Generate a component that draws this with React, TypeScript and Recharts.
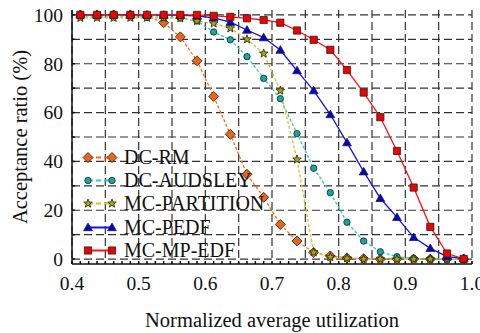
import React from "react";
import { LineChart, Line, XAxis, YAxis, CartesianGrid, Label } from "recharts";

// normalized average utilization (bin centres)
const utilization = [
  0.4125, 0.4375, 0.4625, 0.4875, 0.5125, 0.5375, 0.5625, 0.5875, 0.6125, 0.6375, 0.6625, 0.6875,
  0.7125, 0.7375, 0.7625, 0.7875, 0.8125, 0.8375, 0.8625, 0.8875, 0.9125, 0.9375, 0.9625, 0.9875,
];

// acceptance ratio (%)
const dcRm = [100, 100, 100, 100, 99.5, 96.8, 91, 81.2, 66.6, 51.1, 34.7, 25.3, 14.2, 7.4, 2.7, 1.3, 0.5, 0.2, 0, 0, 0, 0, 0, 0];
const dcAudsley = [99.2, 99.2, 99.2, 99.2, 99.1, 99, 98.7, 97.5, 93, 89.8, 82.9, 74, 65.7, 51.4, 37.2, 27.2, 15.1, 7.4, 3, 1, 0.3, 0, 0, 0];
const mcPartition = [98.8, 98.8, 98.8, 98.8, 98.8, 98.8, 98.6, 97.5, 96.5, 94.5, 90, 84.2, 69, 40.8, 2.8, 0.8, 0.3, 0, 0, 0, 0, 0, 0, 0];
const mcPedf = [100, 100, 100, 100, 100, 99.9, 99.8, 99.6, 98.8, 97, 93.8, 90.7, 85.6, 77.2, 69, 59.2, 47.7, 35.8, 24.9, 17.1, 8.9, 4.4, 1, 0.3];
const mcMpEdf = [100, 100, 100, 100, 100, 100, 100, 100, 99.6, 99.2, 98.6, 97.9, 96.8, 93.6, 89.8, 85.7, 77.4, 68.2, 58.1, 44.3, 29.3, 13.2, 2.3, 0.1];

const xLabelTicks = [0.4, 0.5, 0.6, 0.7, 0.8, 0.9, 1.0];
const xGrid = [0.4, 0.45, 0.5, 0.55, 0.6, 0.65, 0.7, 0.75, 0.8, 0.85, 0.9, 0.95, 1.0];
const yTicks = [0, 10, 20, 30, 40, 50, 60, 70, 80, 90, 100];
const yLabelTicks = [0, 20, 40, 60, 80, 100];

// minor ticks every 0.0125 along x
const xMinor = Array.from({ length: 49 }, (_, i) => Math.round((0.4 + i * 0.0125) * 10000) / 10000);

const data = utilization.map((u, i) => ({
  u,
  dcRm: dcRm[i],
  dcAudsley: dcAudsley[i],
  mcPartition: mcPartition[i],
  mcPedf: mcPedf[i],
  mcMpEdf: mcMpEdf[i],
}));

type Shape = "diamond" | "circle" | "star" | "triangle" | "square";

const series: { key: string; name: string; color: string; fill: string; dash?: string; shape: Shape }[] = [
  { key: "dcRm", name: "DC-RM", color: "#ff6a10", fill: "#ee6414", dash: "3 2", shape: "diamond" },
  { key: "dcAudsley", name: "DC-AUDSLEY", color: "#30c8c8", fill: "#10a8a8", dash: "3 2", shape: "circle" },
  { key: "mcPartition", name: "MC-PARTITION", color: "#c8c828", fill: "#a8a800", dash: "3 2", shape: "star" },
  { key: "mcPedf", name: "MC-PEDF", color: "#1010ff", fill: "#0000d8", shape: "triangle" },
  { key: "mcMpEdf", name: "MC-MP-EDF", color: "#ff1010", fill: "#f00000", shape: "square" },
];

const FONT = "'Liberation Serif', 'Times New Roman', serif";

function markerPath(shape: Shape, cx: number, cy: number) {
  switch (shape) {
    case "diamond":
      return `M${cx},${cy - 5}L${cx + 5},${cy}L${cx},${cy + 5}L${cx - 5},${cy}Z`;
    case "triangle":
      return `M${cx},${cy - 4.4}L${cx + 4.4},${cy + 3.2}L${cx - 4.4},${cy + 3.2}Z`;
    case "square":
      return `M${cx - 3.6},${cy - 3.6}h7.2v7.2h-7.2Z`;
    case "star": {
      let d = "";
      for (let k = 0; k < 10; k++) {
        const r = k % 2 === 0 ? 4.5 : 1.9;
        const a = -Math.PI / 2 + (k * Math.PI) / 5;
        d += `${k === 0 ? "M" : "L"}${cx + r * Math.cos(a)},${cy + r * Math.sin(a)}`;
      }
      return d + "Z";
    }
    default:
      return "";
  }
}

function Marker({ shape, cx, cy, fill }: { shape: Shape; cx: number; cy: number; fill: string }) {
  if (shape === "circle") {
    return <circle cx={cx} cy={cy} r={3.2} fill={fill} stroke="#222" strokeWidth={0.8} />;
  }
  return <path d={markerPath(shape, cx, cy)} fill={fill} stroke="#222" strokeWidth={0.8} />;
}

const near = (list: number[], v: number) => list.some((t) => Math.abs(t - v) < 1e-6);

function LegendBox() {
  return (
    <div style={{ position: "absolute", left: 78, top: 146, fontFamily: FONT, fontSize: 20, color: "#111" }}>
      {series.map((s) => (
        <div key={s.key} style={{ display: "flex", alignItems: "center", height: 23.2 }}>
          <svg width={44} height={23} style={{ display: "block" }}>
            <line x1={10} x2={34} y1={11.5} y2={11.5} stroke={s.color} strokeWidth={2} strokeDasharray={s.dash ? "5 3" : undefined} />
            <Marker shape={s.shape} cx={10} cy={11.5} fill={s.fill} />
            <Marker shape={s.shape} cx={34} cy={11.5} fill={s.fill} />
          </svg>
          <span style={{ marginLeft: 2, lineHeight: "23px" }}>{s.name}</span>
        </div>
      ))}
    </div>
  );
}

export default function App() {
  const tickStyle = { fontSize: 19.5, fill: "#111" };
  const axisStroke = { stroke: "#111", strokeWidth: 1.5 };
  return (
    <div style={{ position: "absolute", left: 0, top: 0, width: 480, height: 333, background: "#fff" }}>
      <style>{`.recharts-wrapper text, .recharts-wrapper tspan { font-family: ${FONT}; }`}</style>
      <LineChart width={480} height={333} data={data} margin={{ top: 10, right: 8, bottom: 0, left: 0 }}>
        <CartesianGrid
          verticalValues={xGrid}
          horizontalValues={yTicks}
          stroke="#333"
          strokeWidth={1.2}
          strokeDasharray="8 4"
        />
        <XAxis
          dataKey="u"
          type="number"
          domain={[0.4, 1.0]}
          ticks={xMinor}
          interval={0}
          height={69}
          tickSize={-3}
          tickMargin={15}
          tick={tickStyle}
          tickLine={axisStroke}
          axisLine={axisStroke}
          tickFormatter={(v: number) => (near(xLabelTicks, v) ? v.toFixed(1) : "")}
        >
          <Label value="Normalized average utilization" position="insideBottom" offset={6} fontSize={20.5} fill="#111" />
        </XAxis>
        <XAxis
          xAxisId="top"
          orientation="top"
          type="number"
          domain={[0.4, 1.0]}
          ticks={xMinor}
          interval={0}
          height={0}
          tickSize={-3}
          tick={false}
          tickLine={axisStroke}
          axisLine={axisStroke}
        />
        <YAxis
          type="number"
          domain={[-2, 102]}
          ticks={yTicks}
          interval={0}
          width={72}
          tickSize={-3}
          tickMargin={12}
          tick={tickStyle}
          tickLine={axisStroke}
          axisLine={axisStroke}
          tickFormatter={(v: number) => (near(yLabelTicks, v) ? String(v) : "")}
        >
          <Label
            content={({ viewBox }: any) => {
              const cy = viewBox ? viewBox.y + viewBox.height / 2 : 137;
              return (
                <text transform={`translate(27,${cy}) rotate(-90)`} textAnchor="middle" fontSize={20.5} fill="#111">
                  Acceptance ratio (%)
                </text>
              );
            }}
          />
        </YAxis>
        <YAxis
          yAxisId="right"
          orientation="right"
          type="number"
          domain={[-2, 102]}
          ticks={yTicks}
          interval={0}
          width={0}
          tickSize={-3}
          tick={false}
          tickLine={axisStroke}
          axisLine={axisStroke}
        />
        {series.map((s) => (
          <Line
            key={s.key}
            dataKey={s.key}
            name={s.name}
            type="linear"
            stroke={s.color}
            strokeWidth={1.3}
            strokeDasharray={s.dash}
            isAnimationActive={false}
            activeDot={false}
            dot={(p: any) =>
              p.cx == null ? (
                <g key={`${s.key}-${p.index}`} />
              ) : (
                <g key={`${s.key}-${p.index}`}>
                  <Marker shape={s.shape} cx={p.cx} cy={p.cy} fill={s.fill} />
                </g>
              )
            }
          />
        ))}
      </LineChart>
      <LegendBox />
    </div>
  );
}
